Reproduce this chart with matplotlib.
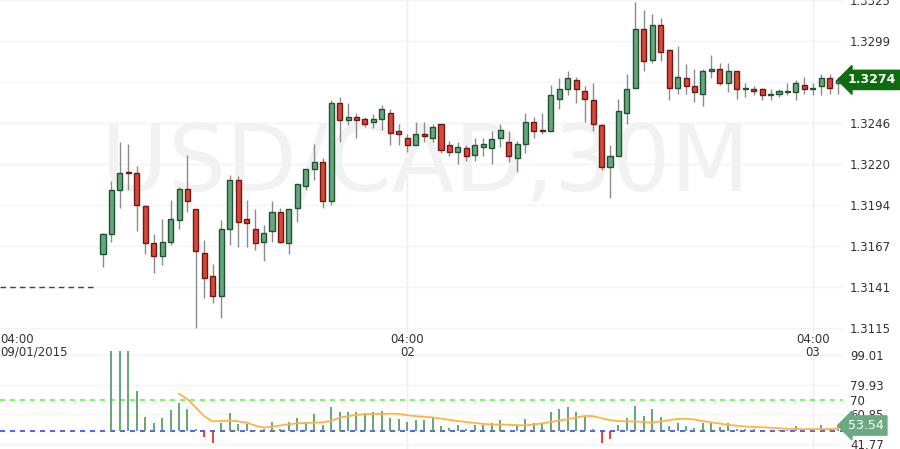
import numpy as np
import matplotlib
matplotlib.use("Agg")
import matplotlib.pyplot as plt

opens = [1.3162,1.3175,1.3203,1.3215,1.3214,1.3193,1.3169,1.3161,1.3170,1.3184,
         1.3204,1.3191,1.3163,1.3148,1.3135,1.3178,1.3210,1.3185,1.3178,1.3170,
         1.3177,1.3189,1.3169,1.3192,1.3206,1.3217,1.3221,1.3196,1.3259,1.3248,
         1.3250,1.3249,1.3247,1.3249,1.3253,1.3241,1.3237,1.3232,1.3239,1.3237,
         1.3246,1.3232,1.3228,1.3230,1.3226,1.3231,1.3230,1.3237,1.3234,1.3224,
         1.3233,1.3247,1.3242,1.3241,1.3262,1.3268,1.3274,1.3267,1.3261,1.3245,
         1.3218,1.3225,1.3253,1.3269,1.3307,1.3287,1.3309,1.3293,1.3269,1.3275,
         1.3270,1.3265,1.3280,1.3281,1.3272,1.3280,1.3268,1.3268,1.3268,1.3264,
         1.3265,1.3266,1.3266,1.3271,1.3268,1.3270,1.3275,1.3272]
highs = [1.3176,1.3209,1.3234,1.3233,1.3219,1.3194,1.3175,1.3185,1.3197,1.3205,
         1.3226,1.3191,1.3171,1.3156,1.3184,1.3213,1.3212,1.3197,1.3191,1.3181,
         1.3196,1.3192,1.3191,1.3207,1.3217,1.3233,1.3224,1.3261,1.3263,1.3259,
         1.3253,1.3250,1.3252,1.3258,1.3255,1.3246,1.3239,1.3247,1.3247,1.3246,
         1.3246,1.3235,1.3234,1.3232,1.3237,1.3237,1.3241,1.3246,1.3241,1.3235,
         1.3253,1.3250,1.3253,1.3271,1.3275,1.3280,1.3276,1.3270,1.3272,1.3246,
         1.3232,1.3262,1.3278,1.3324,1.3319,1.3316,1.3314,1.3294,1.3296,1.3284,
         1.3281,1.3281,1.3290,1.3285,1.3285,1.3280,1.3272,1.3270,1.3269,1.3268,
         1.3268,1.3272,1.3274,1.3276,1.3272,1.3278,1.3278,1.3276]
lows = [1.3154,1.3170,1.3192,1.3203,1.3177,1.3162,1.3150,1.3155,1.3168,1.3178,
        1.3189,1.3115,1.3134,1.3131,1.3121,1.3168,1.3167,1.3167,1.3165,1.3158,
        1.3170,1.3169,1.3162,1.3183,1.3203,1.3210,1.3192,1.3194,1.3234,1.3245,
        1.3237,1.3244,1.3243,1.3242,1.3232,1.3232,1.3228,1.3232,1.3234,1.3234,
        1.3227,1.3225,1.3220,1.3222,1.3222,1.3225,1.3220,1.3231,1.3221,1.3215,
        1.3227,1.3237,1.3239,1.3241,1.3255,1.3264,1.3259,1.3247,1.3241,1.3216,
        1.3198,1.3225,1.3246,1.3269,1.3280,1.3285,1.3286,1.3261,1.3265,1.3265,
        1.3260,1.3257,1.3275,1.3271,1.3266,1.3262,1.3263,1.3264,1.3261,1.3261,
        1.3263,1.3264,1.3261,1.3265,1.3264,1.3264,1.3265,1.3265]
closes = [1.3175,1.3203,1.3214,1.3214,1.3194,1.3169,1.3161,1.3170,1.3185,1.3204,
          1.3196,1.3164,1.3147,1.3135,1.3178,1.3210,1.3183,1.3182,1.3169,1.3176,
          1.3189,1.3170,1.3191,1.3207,1.3217,1.3221,1.3196,1.3259,1.3248,1.3250,
          1.3248,1.3246,1.3249,1.3255,1.3240,1.3239,1.3232,1.3239,1.3238,1.3244,
          1.3229,1.3228,1.3231,1.3225,1.3232,1.3233,1.3236,1.3242,1.3225,1.3233,
          1.3247,1.3241,1.3241,1.3264,1.3268,1.3275,1.3268,1.3262,1.3246,1.3218,
          1.3225,1.3254,1.3268,1.3307,1.3286,1.3309,1.3292,1.3269,1.3276,1.3270,
          1.3266,1.3280,1.3281,1.3272,1.3280,1.3268,1.3269,1.3267,1.3264,1.3265,
          1.3267,1.3267,1.3272,1.3268,1.3269,1.3275,1.3269,1.3274]

osc_bars = [np.nan,112,112,112,75.5,59.2,55.0,58.6,63.4,68.3,
            64.0,51.4,46.0,42.4,55.0,61.6,54.4,54.4,50.5,51.4,
            55.6,51.4,55.6,58.6,55.0,61.0,53.8,65.2,62.2,62.2,
            62.2,61.6,62.2,62.8,58.6,58.0,55.6,57.4,57.2,58.6,
            53.0,52.2,53.6,51.2,54.2,54.2,55.2,57.2,50.3,53.2,
            57.8,55.2,55.2,62.5,63.9,65.7,62.0,59.2,51.6,42.2,
            44.8,54.2,58.2,66.4,59.6,63.9,59.2,53.2,55.0,53.2,
            52.0,55.0,55.8,52.7,55.0,51.2,51.0,51.0,50.3,50.3,
            50.5,50.7,53.0,50.7,50.5,54.2,51.0,53.6]
osc_line = [np.nan]*9 + [74,70.5,65,59.4,56.2,56.4,56.8,56.2,55.4,53.5,
            52.2,52.8,53.6,54.4,55,55.2,55.4,55.6,56.6,58.6,
            59.6,60.4,60.8,61,61,61.2,61,60.2,59.6,59.2,
            58.8,58,57.2,56.4,55.8,55.2,54.6,54.2,54.2,54,
            53.8,53.6,54.2,55,55.8,56.8,57.6,58.8,59.7,59.6,
            58.2,57,56.4,56.2,56.2,55.8,55.4,56.2,57,57.8,
            57.9,57.4,56.4,55.6,54.8,54,53.4,52.9,52.6,52.4,
            52.1,51.8,51.5,51.3,51.2,51.2,51.2,51.3,51.6]

price_ticks = [1.3115,1.31413,1.31675,1.31938,1.322,1.32463,1.32725,1.32988,1.3325]
price_labels = ["1.3115","1.3141","1.3167","1.3194","1.3220","1.3246","","1.3299","1.3325"]
osc_ticks = [41.77,60.85,70,79.93,99.01]
osc_labels = ["41.77","60.85","70","79.93","99.01"]
time_ticks = [-12,36,84]
time_labels = ["04:00\n09/01/2015","04:00\n02","04:00\n03"]
prev_close = 1.3141
last_price = "1.3274"
last_osc = "53.54"

W, H = 900, 449
fig = plt.figure(figsize=(9, 4.49), dpi=100)
xl = (-103/8.45, (843-103)/8.45)
ax = fig.add_axes([0, 1-333/H, 843/W, 333/H])
ax2 = fig.add_axes([0, 0, 843/W, 98/H])
for a in (ax, ax2):
    for s in a.spines.values():
        s.set_visible(False)
    a.set_xlim(*xl)
    a.set_xticks([])
    a.tick_params(axis='y', length=0, labelsize=8.5, labelcolor='#333333', pad=5)
    a.yaxis.tick_right()
    for t in time_ticks[1:]:
        a.axvline(t, color='#eeeeee', lw=1, zorder=0)

P0, P1 = 1.31115, 1.33253
ax.set_ylim(P0, P1)
ax.set_yticks(price_ticks)
ax.set_yticklabels(price_labels)
for p in price_ticks:
    ax.axhline(p, color='#f3f3f3', lw=1, zorder=0)

ax.text(425/843, 1-165/333, "USD/CAD,30M", transform=ax.transAxes, fontsize=66,
        color='#f2f2f2', ha='center', va='center', zorder=1)

gfill, gedge = '#68a67e', '#1d5430'
rfill, redge = '#d8473a', '#6e1a12'
for i, (o, h, l, c) in enumerate(zip(opens, highs, lows, closes)):
    ax.vlines(i, l, h, color='#8c8c8c', lw=1, zorder=2)
    up = c >= o
    lo, hi = min(o, c), max(o, c)
    ax.bar(i, max(hi-lo, 0.00003), bottom=lo, width=0.6,
           color=gfill if up else rfill, edgecolor=gedge if up else redge,
           lw=1, zorder=3)

ax.hlines(prev_close, xl[0], -0.7, color='#444444', lw=1, linestyles=(0, (4, 3)))

ax.text(1.006, (float(last_price)-P0)/(P1-P0), last_price,
        transform=ax.transAxes, ha='left', va='center', color='white',
        fontsize=9, fontweight='bold',
        bbox=dict(boxstyle='larrow,pad=0.25', fc='#0e6b0e', ec='#0e6b0e'))

O0, O1 = 38.4, 101.6
ax2.set_ylim(O0, O1)
ax2.set_yticks(osc_ticks)
ax2.set_yticklabels(osc_labels)
for p in [41.77, 60.85, 79.93, 99.01]:
    ax2.axhline(p, color='#f3f3f3', lw=1, zorder=0)
ax2.axhline(70, color='#66ee55', lw=1.2, ls=(0, (3, 3)))
ax2.axhline(50, color='#3344ff', lw=1.2, ls=(0, (3, 3)))
x = np.arange(len(osc_bars))
for i, v in enumerate(osc_bars):
    if np.isnan(v):
        continue
    ax2.vlines(i, 50, v, color='#5a9e6e' if v >= 50 else '#e8302a', lw=1.3, zorder=3)
ax2.plot(x, osc_line, color='#ffb347', lw=1.3, zorder=4)
ax2.text(1.006, (float(last_osc)-O0)/(O1-O0), last_osc,
         transform=ax2.transAxes, ha='left', va='center', color='white',
         fontsize=9, bbox=dict(boxstyle='larrow,pad=0.25', fc='#6aaa80', ec='#6aaa80'))

def px(xv):
    return (103 + 8.45*xv) / W
for t, lab in zip(time_ticks, time_labels):
    ha = 'left' if t == time_ticks[0] else 'center'
    xx = 0.0 if ha == 'left' else px(t)
    fig.text(xx, 1-333/H, lab, ha=ha, va='top', fontsize=8.5, color='#333333',
             linespacing=0.95, multialignment='center' if ha == 'center' else 'left')

fig.savefig("out.png", dpi=100, facecolor='white')
